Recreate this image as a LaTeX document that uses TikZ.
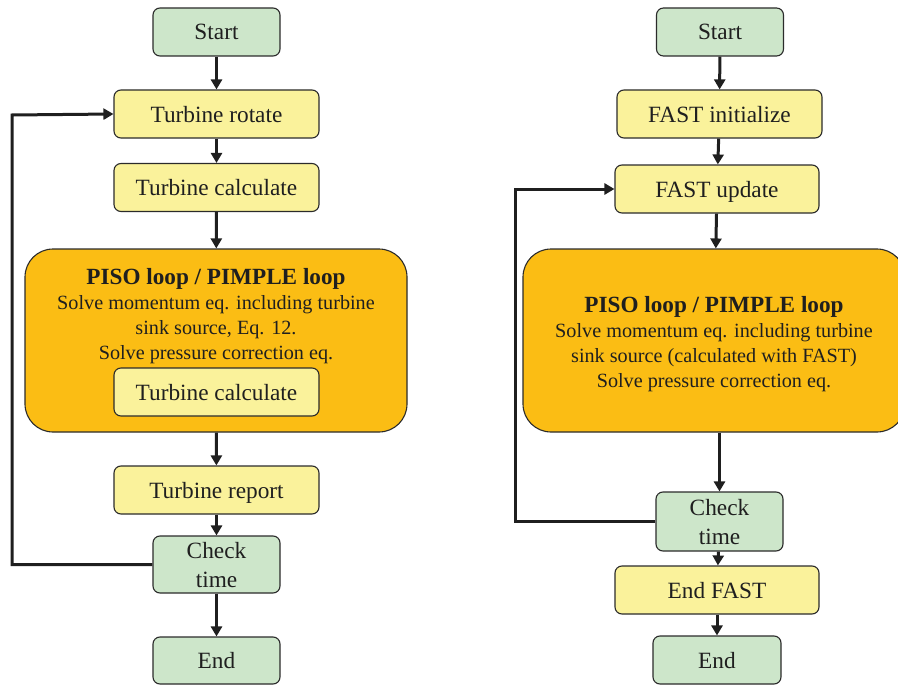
\documentclass[tikz,border=0pt]{standalone}
\usepackage{fontspec}
\setmainfont{Liberation Serif}
\usetikzlibrary{arrows.meta}
\definecolor{gfill}{HTML}{CDE6CA}
\definecolor{yfill}{HTML}{FAF29B}
\definecolor{ofill}{HTML}{FBBD14}
\definecolor{bord}{HTML}{2B2B2B}
\newcommand\pisottl{\fontsize{23.2}{25}\selectfont\bfseries}
\tikzset{
  box/.style={draw=bord, line width=1.1pt, rounded corners=7pt, inner sep=0pt, align=center, text depth=0pt, font=\fontsize{23.3}{29}\selectfont, text=black!88},
  gbox/.style={box, fill=gfill, minimum width=127pt, minimum height=48pt},
  ybox/.style={box, fill=yfill, minimum width=205pt, minimum height=48pt},
  obox/.style={draw=bord, line width=1.1pt, rounded corners=28pt, fill=ofill, minimum width=382pt, minimum height=183pt, inner sep=0pt},
  otext/.style={align=center, inner sep=0pt, text=black!88, font=\fontsize{20.2}{25}\selectfont},
  arr/.style={line width=3pt, draw=black!88, -{Triangle[length=10pt,width=11pt]}}
}
\begin{document}
\begin{tikzpicture}[x=1pt,y=-1pt]
\useasboundingbox (0,0) rectangle (898,685);
\clip (0,0) rectangle (898,685);
% ---------- left ----------
\node[gbox] (start1) at (216.5,32) {Start};
\node[ybox] (rot1) at (216.5,114) {Turbine rotate};
\node[ybox] (calc1) at (216.5,187.5) {Turbine calculate};
\node[obox] (piso1) at (216,340.5) {};
\node[otext] (piso1t) at (216,316) {{\pisottl PISO loop / PIMPLE loop}\\Solve momentum eq. including turbine\\sink source, Eq. 12.\\Solve pressure correction eq.};
\node[ybox] (icalc1) at (216.5,392) {Turbine calculate};
\node[ybox] (rep1) at (216.5,490) {Turbine report};
\node[gbox, minimum height=57pt] (check1) at (216.5,564.5) {Check\\time};
\node[gbox, minimum height=47pt] (end1) at (216.5,660.5) {End};
\coordinate (loop1) at (12,115);
\draw[arr] (start1) -- (rot1);
\draw[arr] (rot1) -- (calc1);
\draw[arr] (calc1) -- (piso1);
\draw[arr] (piso1) -- (rep1);
\draw[arr] (rep1) -- (check1);
\draw[arr] (check1) -- (end1);
\draw[arr] (check1.west) -| (loop1) -- (rot1.west);
% ---------- right ----------
\node[gbox] (start2) at (720,32) {Start};
\node[ybox] (init2) at (719.5,114) {FAST initialize};
\node[ybox, minimum width=204pt] (upd2) at (717,189) {FAST update};
\node[obox] (piso2) at (714,340.5) {};
\node[otext] (piso2t) at (714,344) {{\pisottl PISO loop / PIMPLE loop}\\Solve momentum eq. including turbine\\sink source (calculated with FAST)\\Solve pressure correction eq.};
\node[gbox, minimum height=59pt] (check2) at (719.5,521.5) {Check\\time};
\node[ybox, minimum width=204pt] (endf2) at (717,590) {End FAST};
\node[gbox, minimum width=128pt] (end2) at (717,660) {End};
\coordinate (loop2) at (515,189);
\draw[arr] (start2) -- (init2);
\draw[arr] (init2) -- (upd2);
\draw[arr] (upd2) -- (piso2);
\draw[arr] (piso2.south -| check2) -- (check2);
\draw[arr] (check2) -- (endf2);
\draw[arr] (endf2) -- (end2);
\draw[arr] (check2.west) -| (loop2) -- (upd2.west);
\end{tikzpicture}
\end{document}
